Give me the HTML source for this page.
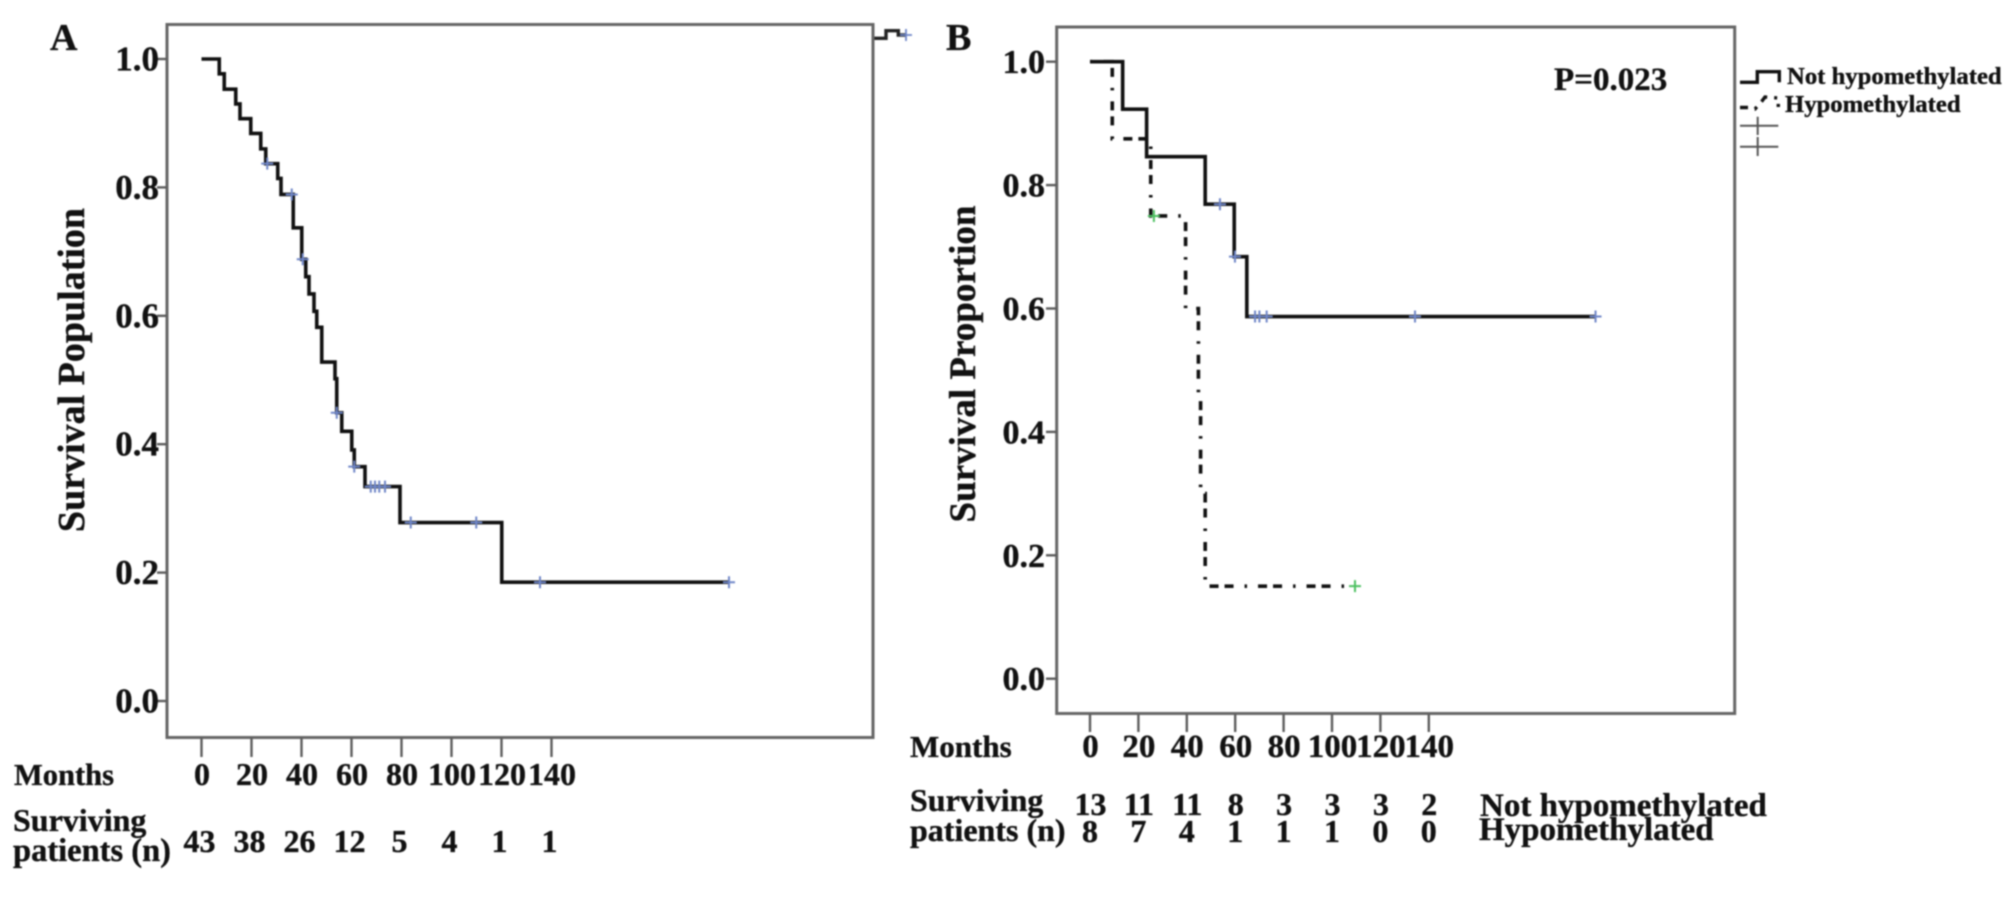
<!DOCTYPE html>
<html lang="en">
<head>
<meta charset="utf-8">
<title>Survival curves</title>
<style>
html,body{margin:0;padding:0;background:#fff;width:2008px;height:903px;overflow:hidden}
svg{display:block;filter:blur(.7px)}
text{font-family:"Liberation Serif",serif;font-weight:700;fill:#111;stroke:#111;stroke-width:.35px}
</style>
</head>
<body>
<svg id="figure" xmlns="http://www.w3.org/2000/svg" width="2008" height="903" viewBox="0 0 2008 903">
  <rect x="0" y="0" width="2008" height="903" fill="#fff"/>
  <text x="50" y="50" font-size="38">A</text>
  <text x="946" y="50" font-size="38">B</text>
  <text transform="translate(84,370) rotate(-90)" text-anchor="middle" font-size="38">Survival Population</text>
  <text transform="translate(975,364) rotate(-90)" text-anchor="middle" font-size="37">Survival Proportion</text>
  <text x="14" y="785" font-size="30.5">Months</text>
  <text x="13" y="831" font-size="32">Surviving</text>
  <text x="13" y="861" font-size="32.5">patients (n)</text>
  <text x="910" y="757" font-size="31">Months</text>
  <text x="910" y="811" font-size="32">Surviving</text>
  <text x="910" y="841" font-size="32">patients (n)</text>
  <text x="1480" y="816" font-size="33">Not hypomethylated</text>
  <text x="1479" y="840" font-size="33">Hypomethylated</text>
  <text x="1554" y="90" font-size="33">P=0.023</text>
  <g>
    <polyline points="1740,82.3 1757.3,82.3 1757.3,71.7 1779.3,71.7 1779.3,82.3" fill="none" stroke="#111" stroke-width="3.4"/>
    <text x="1787" y="84" font-size="24.7">Not hypomethylated</text>
    <polyline points="1740,107.5 1748.5,107.5 1755,109 1762,101 1765,97 1778.3,98 1778.3,107" fill="none" stroke="#111" stroke-width="3.4" stroke-dasharray="8 7 3 7"/>
    <text x="1785" y="112" font-size="24.7">Hypomethylated</text>
    <path d="M1740 125.7H1778.3M1757.7 116.7V135" stroke="#555" stroke-width="2" fill="none"/>
    <path d="M1740 146.7H1778.3M1757.7 137V156" stroke="#555" stroke-width="2" fill="none"/>
  </g>
  <g>
    <polyline points="874.3,38.3 886,38.3 886,30.7 898.3,30.7 898.3,35 906,35" fill="none" stroke="#222" stroke-width="3.4"/>
    <path d="M900 35H912M906 29V41" stroke="#6f86c8" stroke-width="1.8" fill="none"/>
  </g>
</svg>
<script>
// Panel A data
const tickMonths = [0, 20, 40, 60, 80, 100, 120, 140];
const yTicks = [1.0, 0.8, 0.6, 0.4, 0.2, 0.0];
const yTickLabels = ["1.0", "0.8", "0.6", "0.4", "0.2", "0.0"];
const aEventMonths = [0, 7.1, 9.1, 13.7, 15.4, 19.7, 23.7, 25.7, 30.5, 31.8, 36.7, 40.1, 41.7, 43, 45, 46.1, 48.1, 53.4, 54.1, 56.1, 60.1, 61.1, 65.4, 79.4, 120.1];
const aSurvival = [1, 0.977, 0.953, 0.930, 0.907, 0.884, 0.860, 0.837, 0.814, 0.789, 0.737, 0.688, 0.661, 0.634, 0.607, 0.582, 0.528, 0.502, 0.449, 0.420, 0.391, 0.365, 0.334, 0.278, 0.185];
const aEndMonth = 211;
const aCensorMonths = [26.3, 36.1, 40.5, 54.1, 61.1, 67.7, 69.4, 71.1, 73.4, 83.7, 109.9, 135.4, 211];
const aCensorSurvival = [0.837, 0.789, 0.688, 0.449, 0.365, 0.334, 0.334, 0.334, 0.334, 0.278, 0.278, 0.185, 0.185];
const aAtRisk = [43, 38, 26, 12, 5, 4, 1, 1];

// Panel B data
const bNotEventMonths = [0, 13.5, 23.4, 47.6, 59.6, 64.8];
const bNotSurvival = [1, 0.923, 0.846, 0.769, 0.684, 0.587];
const bNotEndMonth = 208.9;
const bNotCensorMonths = [53.7, 59.9, 68.2, 70, 73, 134.3, 208.9];
const bNotCensorSurvival = [0.769, 0.684, 0.587, 0.587, 0.587, 0.587, 0.587];
const bHypoEventMonths = [0, 9.2, 25.1, 39.5, 44.8, 45.7, 47.6];
const bHypoSurvival = [1, 0.875, 0.75, 0.6, 0.45, 0.3, 0.15];
const bHypoEndMonth = 109.5;
const bHypoCensorMonths = [26.4, 109.5];
const bHypoCensorSurvival = [0.75, 0.15];
const bNotAtRisk = [13, 11, 11, 8, 3, 3, 3, 2];
const bHypoAtRisk = [8, 7, 4, 1, 1, 1, 0, 0];

const svgNS = 'http://www.w3.org/2000/svg';
const fig = document.getElementById('figure');

function xA(m) { return 201.5 + m * 2.5; }
function yA(v) { return 59 + (1 - v) * 642; }
function xB(m) { return 1090 + m * 2.42; }
function yB(v) { return 61.7 + (1 - v) * 617; }

function make(tag, parent) {
  const el = document.createElementNS(svgNS, tag);
  parent.appendChild(el);
  return el;
}
function group(parent) { return make('g', parent); }
function seg(parent, x1, y1, x2, y2) {
  const el = make('line', parent);
  el.setAttribute('x1', x1);
  el.setAttribute('y1', y1);
  el.setAttribute('x2', x2);
  el.setAttribute('y2', y2);
  el.setAttribute('stroke', '#5c5c5c');
  el.setAttribute('stroke-width', '2.4');
  return el;
}
function label(parent, x, y, str, size, anchor) {
  const el = make('text', parent);
  el.setAttribute('x', x);
  el.setAttribute('y', y);
  el.setAttribute('font-size', size);
  el.setAttribute('text-anchor', anchor);
  el.textContent = str;
  return el;
}
function stepPoints(xs, ys, endX, fx, fy) {
  const pts = [];
  xs.forEach(function (m, i) {
    if (i > 0) pts.push(fx(m) + ',' + fy(ys[i - 1]));
    pts.push(fx(m) + ',' + fy(ys[i]));
  });
  pts.push(fx(endX) + ',' + fy(ys[ys.length - 1]));
  return pts.join(' ');
}
function curve(parent, xs, ys, endX, fx, fy, dash) {
  const el = make('polyline', parent);
  el.setAttribute('points', stepPoints(xs, ys, endX, fx, fy));
  el.setAttribute('fill', 'none');
  el.setAttribute('stroke', '#111');
  el.setAttribute('stroke-width', '3.6');
  if (dash) el.setAttribute('stroke-dasharray', dash);
  return el;
}
function cross(parent, x, y, color) {
  const el = make('path', parent);
  el.setAttribute('d', 'M' + (x - 6) + ' ' + y + 'H' + (x + 6) + 'M' + x + ' ' + (y - 6) + 'V' + (y + 6));
  el.setAttribute('stroke', color);
  el.setAttribute('stroke-width', '2');
  el.setAttribute('fill', 'none');
  return el;
}
function frame(parent, x, y, w, h) {
  const el = make('rect', parent);
  el.setAttribute('x', x);
  el.setAttribute('y', y);
  el.setAttribute('width', w);
  el.setAttribute('height', h);
  el.setAttribute('fill', 'none');
  el.setAttribute('stroke', '#666');
  el.setAttribute('stroke-width', '3');
  return el;
}

/* ---------- Panel A ---------- */
const panelA = group(fig);



const frameA = frame(panelA, 167, 24.5, 706, 713);



yTicks.forEach(function (v, i) {
  const t = seg(panelA, 157, yA(v), 167, yA(v));
  
  
  const l = label(panelA, 159, yA(v) + 11.5, yTickLabels[i], 35, 'end');
  
  
});
tickMonths.forEach(function (m, i) {
  const t = seg(panelA, xA(m), 738, xA(m), 757);
  
  
  const l = label(panelA, xA(m) + 0.5, 785, String(m), 32, 'middle');
  
  
  const n = label(panelA, xA(m) - 2, 852, String(aAtRisk[i]), 32, 'middle');
  
  
});
const lineA = curve(panelA, aEventMonths, aSurvival, aEndMonth, xA, yA);


aCensorMonths.forEach(function (m, i) {
  const c = cross(panelA, xA(m), yA(aCensorSurvival[i]), '#6f86c8');
  
  
});

/* ---------- Panel B ---------- */
const panelB = group(fig);



const frameB = frame(panelB, 1056.7, 27, 678, 686.5);



yTicks.forEach(function (v, i) {
  const t = seg(panelB, 1046, yB(v), 1056.7, yB(v));
  
  
  const l = label(panelB, 1045, yB(v) + 11.5, yTickLabels[i], 34, 'end');
  
  
});
tickMonths.forEach(function (m, i) {
  const t = seg(panelB, xB(m), 714, xB(m), 732);
  
  
  const l = label(panelB, xB(m) + 0.5, 757, String(m), 33, 'middle');
  
  
  const n1 = label(panelB, xB(m) + 0.5, 815, String(bNotAtRisk[i]), 32, 'middle');
  
  
  const n2 = label(panelB, xB(m), 842, String(bHypoAtRisk[i]), 32, 'middle');
  
  
});
const lineHypo = curve(panelB, bHypoEventMonths, bHypoSurvival, bHypoEndMonth, xB, yB, '2.5 11 9 6 9 11');


const lineNot = curve(panelB, bNotEventMonths, bNotSurvival, bNotEndMonth, xB, yB);


bNotCensorMonths.forEach(function (m, i) {
  const c = cross(panelB, xB(m), yB(bNotCensorSurvival[i]), '#6f86c8');
  
  
});
bHypoCensorMonths.forEach(function (m, i) {
  const c = cross(panelB, xB(m), yB(bHypoCensorSurvival[i]), '#4cc060');
  
  
});
</script>
</body>
</html>
